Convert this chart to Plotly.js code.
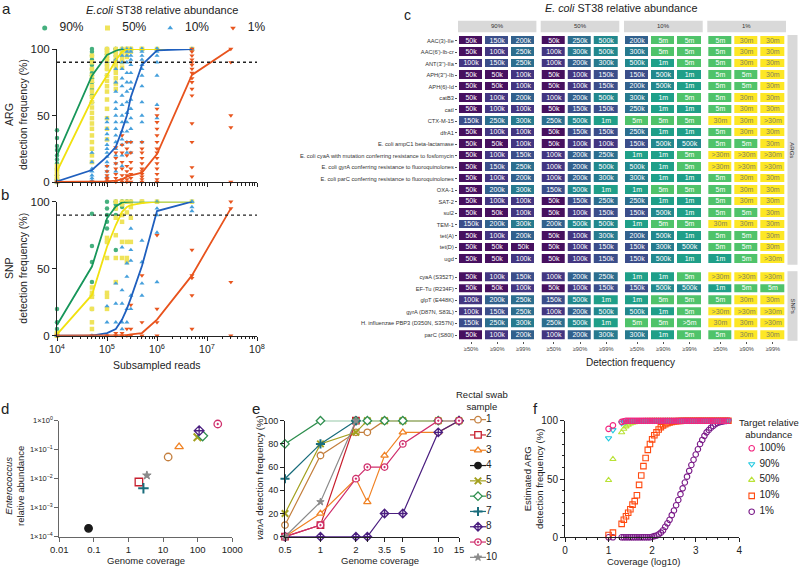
<!DOCTYPE html>
<html><head><meta charset="utf-8">
<script src="https://cdn.plot.ly/plotly-3.0.1.min.js"></script>
<style>html,body{margin:0;padding:0;background:#fff}#chart{width:800px;height:569px}</style>
</head><body><div id="chart"></div>
<script>
// ---------------- DATA ----------------
const READS = [1e4, 5e4, 1e5, 1.5e5, 2e5, 2.5e5, 3e5, 5e5, 1e6, 5e6, 3e7];
const THRESHOLD = 90;
const ABUND = ['90%', '50%', '10%', '1%'];

// panel a: ARG mean detection frequency
const ARG90 = [20, 80, 95.5, 98.7, 100, 100, 100, 100, 100, 100, null];
const ARG50 = [8, 62, 80, 91.5, 98, 100, 100, 100, 100, 100, null];
const ARG10 = [0.5, 9, 19, 26.5, 39, 50, 64, 88, 99, 100, null];
const ARG1  = [0, 0, 0.5, 1, 2, 4, 5, 7, 21, 80.5, 100];
// panel a: individual ARGs (one list per read depth)
const P90A = [[39,33,27,24,20,17,14,10,9,5,2],[100,98,95,92,90,88,85,82,80,78,75,70,65,60],[100,100,98,96,94,92,90,88,85,80],[100,100,100,98,97,95,92],[100,100,100,99,98],[100,100,100],[100,100],[100],[100],[100],[]];
const P50A = [[12,9,6,4,2,0],[95,90,85,80,76,72,68,64,60,56,52,48,44,40,35,30,25,20,15],[100,98,95,92,88,85,80,76,72,68,62,55,48,40,32],[100,98,96,93,90,88,85,82,78,74,70],[100,99,98,96,93,90,86],[100,100,99,97,94],[100,100,98],[100,100],[100],[100],[]];
const P10A = [[0,0,1],[22,15,10,8,5,3,1,0],[48,45,40,36,32,28,25,22,19,15,12,8,4,1],[92,85,75,68,60,55,50,45,40,35,30,25,20,14,8],[100,95,90,85,78,72,65,58,50,45,38,32,28,20,12],[100,98,95,90,82,75,68,60,52,45,38,30,22],[100,98,95,92,88,82,75,70,62,55,48,40,30,22],[100,100,98,95,92,88,85,80,72,60,50,45,30],[100,100,100,98,95,90,80,58,48],[100,100],[]];
const P1A  = [[0],[0,0],[12,8,5,3,2,0,0],[26,22,18,14,10,6,3,0],[35,28,22,15,10,5,2,0],[30,25,20,12,8,5,2,0],[30,22,15,10,6,3,0],[30,25,22,18,14,10,8,6,4,2,0],[55,50,45,40,35,30,25,22,18,14,10,6,2,0],[100,98,95,92,90,88,85,82,78,75,70,65,44,30,11,4],[100,90,50,41,0]];

// panel b: SNP mean detection frequency
const SNP90 = [8, 51.6, 87.6, 96.5, 99.5, 100, 100, 100, 100, 100, null];
const SNP50 = [1, 30.4, 66.4, 82.6, 92.5, 96, 97.5, 99, 100, 100, null];
const SNP10 = [0, 0, 2, 5, 12, 20, 28, 52, 93, 100, null];
const SNP1  = [0, 0, 0, 0, 0, 0.5, 1, 2, 12, 45, 95];
const P90B = [[20,10,5,2,0,0],[91,67,55,40,30,20],[100,95,90,85,80,70],[100,100,98,95,90,64],[100,100,100,98,96],[100,100,100],[100,100],[100],[100],[100],[]];
const P50B = [[0,0,2],[36,32,29,20,10,5],[73,70,58,32,29,20],[100,95,88,75,58,40],[100,98,90,85,70,58],[100,92,70,58,55],[100,96,88,70],[100,100],[100],[100],[]];
const P10B = [[0,0],[0,0],[22,10,0,0],[39,24,10,0],[66,34,24,10,5],[54,44,20,10],[80,64,56,30,20],[71,55,39,30],[100,95,90,77,40],[100,100,96,93],[]];
const P1B  = [[0],[0],[0],[0,2],[0,2],[5,0],[23,5,0],[45,10,0],[75,20,10,0],[64,45,43,30,5],[100,95,40,0]];

// panel c: reads needed for detection
const DET = ['≥50%', '≥90%', '≥99%'];
const ARG_GENES = ["AAC(3)-IIe","AAC(6')-Ib-cr","ANT(3'')-IIa","APH(3'')-Ib","APH(6)-Id","catB3","catI","CTX-M-15","dfrA1","E. coli ampC1 beta-lactamase","E. coli cyaA with mutation conferring resistance to fosfomycin","E. coli gyrA conferring resistance to fluoroquinolones","E. coli parC conferring resistance to fluoroquinolones","OXA-1","SAT-2","sul2","TEM-1","tet(A)","tet(D)","ugd"];
const SNP_GENES = ["cyaA (S352T)","EF-Tu (R234F)","glpT (E448K)","gyrA (D87N, S83L)","H. influenzae PBP3 (D350N, S357N)","parC (S80I)"];
const ARG_90 = [["50k","150k","200k"],["50k","100k","250k"],["100k","150k","250k"],["50k","50k","100k"],["50k","50k","100k"],["50k","100k","200k"],["50k","100k","100k"],["150k","250k","300k"],["50k","100k","100k"],["50k","50k","100k"],["50k","100k","150k"],["50k","150k","250k"],["50k","100k","200k"],["50k","200k","300k"],["50k","100k","100k"],["50k","50k","100k"],["150k","200k","300k"],["50k","100k","200k"],["50k","50k","50k"],["50k","50k","100k"]];
const ARG_50 = [["50k","250k","500k"],["100k","300k","500k"],["100k","200k","300k"],["50k","100k","150k"],["50k","100k","150k"],["100k","200k","500k"],["50k","150k","150k"],["250k","500k","1m"],["50k","150k","150k"],["50k","100k","100k"],["100k","200k","250k"],["100k","200k","500k"],["100k","200k","300k"],["150k","500k","1m"],["50k","150k","250k"],["50k","100k","150k"],["200k","500k","500k"],["50k","100k","300k"],["50k","100k","150k"],["50k","100k","150k"]];
const ARG_10 = [["200k","5m","5m"],["300k","5m","5m"],["500k","1m","5m"],["150k","500k","1m"],["200k","500k","1m"],["300k","1m","5m"],["250k","1m","1m"],["5m","5m","5m"],["250k","1m","1m"],["150k","500k","500k"],["1m","1m","5m"],["500k","1m","5m"],["300k","1m","1m"],["1m","5m","5m"],["250k","1m","1m"],["150k","500k","1m"],["1m","5m","5m"],["200k","500k","1m"],["150k","300k","500k"],["150k","500k","1m"]];
const ARG_1 = [["5m","30m","30m"],["5m","30m","30m"],["5m","30m","30m"],["5m","5m","30m"],["5m","5m","30m"],["5m","30m","30m"],["5m","30m","30m"],["30m","30m",">30m"],["5m","30m","30m"],["5m","5m","30m"],[">30m",">30m",">30m"],[">30m",">30m",">30m"],["5m","30m","30m"],["5m","30m","30m"],["5m","30m","30m"],["5m","5m","30m"],["30m","30m","30m"],["5m","5m","30m"],["5m","5m","30m"],["1m","5m",">30m"]];
const SNP_90 = [["50k","100k","150k"],["50k","50k","100k"],["100k","200k","250k"],["100k","150k","250k"],["150k","250k","300k"],["50k","100k","200k"]];
const SNP_50 = [["100k","200k","250k"],["50k","100k","150k"],["150k","500k","1m"],["100k","200k","500k"],["250k","500k","1m"],["100k","200k","300k"]];
const SNP_10 = [["1m","1m","5m"],["150k","500k","500k"],["1m","5m","5m"],["500k","1m","5m"],["5m","5m",">5m"],["300k","1m","5m"]];
const SNP_1 = [[">30m",">30m",">30m"],["1m","5m","5m"],["5m","30m","30m"],[">30m",">30m",">30m"],["30m","30m",">30m"],["5m","30m","30m"]];

// panel d
const SAMPLES = ['1','2','3','4','5','6','7','8','9','10'];
const D_COV = [14, 2.0, 29, 0.07, 98, 139, 2.7, 110, 380, 3.4];
const D_ABUND = [0.056, 0.0077, 0.126, 0.000195, 0.27, 0.30, 0.0047, 0.45, 0.77, 0.013];

// panel e
const E_COV = [0.5, 1, 2, 2.5, 3.5, 5, 10, 15];
const E_TICKS = ['0.5','1','2','','3.5','5','10','15'];
const E_VALS = [
  [10,70,90,90,100,100,100,null],
  [0,10,100,null,null,null,null,null],
  [0,20,50,30,70,90,90,100],
  [null,null,null,null,null,null,null,null],
  [20,80,90,100,100,100,100,100],
  [80,100,100,100,100,100,100,100],
  [50,80,100,null,null,null,null,null],
  [0,0,0,0,20,20,90,100],
  [0,10,50,60,60,80,100,100],
  [0,30,100,null,null,null,null,null]
];

// panel f
const F_NAMES = ['100%','90%','50%','10%','1%'];
const F_X = [1.0,1.1,1.3,1.35,1.4,1.45,1.5,1.55,1.6,1.65,1.7,1.75,1.8,1.85,1.9,1.95,2.0,2.05,2.1,2.15,2.2,2.25,2.3,2.35,2.4,2.45,2.5,2.55,2.6,2.65,2.7,2.75,2.8,2.85,2.9,2.95,3.0,3.05,3.1,3.15,3.2,3.25,3.3,3.35,3.4,3.45,3.5,3.55,3.6,3.65,3.7,3.75];
const F100 = [93,96,99,99.5,100,100,100,100,100,100,100,100,100,100,100,100,100,100,100,100,100,100,100,100,100,100,100,100,100,100,100,100,100,100,100,100,100,100,100,100,100,100,100,100,100,100,100,100,100,100,100,100];
const F90  = [85,92,98,99,99.5,100,100,100,100,100,100,100,100,100,100,100,100,100,100,100,100,100,100,100,100,100,100,100,100,100,100,100,100,100,100,100,100,100,100,100,100,100,100,100,100,100,100,100,100,100,100,100];
const F50  = [49,67,90,93,95,96.5,97.5,98.2,98.7,99,99.3,99.5,99.7,99.8,99.9,100,100,100,100,100,100,100,100,100,100,100,100,100,100,100,100,100,100,100,100,100,100,100,100,100,100,100,100,100,100,100,100,100,100,100,100,100];
const F10  = [2,4,11.5,15,18,21,24,28,31,36,45,53,61,68,75,80,84,87.5,90,92.5,94.5,96,97,97.8,98.5,99,99.3,99.5,99.7,99.8,99.9,100,100,100,100,100,100,100,100,100,100,100,100,100,100,100,100,100,100,100,100,100];
const F1   = [0,0,0,0,0,0,0,0,0,0,0,0,0,0,0,0,0.5,1,1.5,2.5,4,6,9,12,15,19,23,27.5,32,37,42,47,52,57,62,66.5,71,75.5,80,83.5,87,90,92,94,95.5,97,98,98.7,99.2,99.6,99.8,100];

// ---------------- STYLE ----------------
const W = 800, H = 569;
const fx = p => p / W, fy = p => 1 - p / H;
const FONT = 'Liberation Sans, Arial, sans-serif';
const INK = '#222';

const AB_STYLE = [
  {pc:'#45b07e', lc:'#17965a', sym:'circle'},
  {pc:'#efe35a', lc:'#f1e10f', sym:'square'},
  {pc:'#46a0dc', lc:'#1f5fbe', sym:'triangle-up'},
  {pc:'#e8561f', lc:'#e8531d', sym:'triangle-down'}
];
const HEAT_COLORS = ['#47105f','#433681','#3b4e8a','#32618d','#2c6e8e','#277a8e','#22888d','#1f9f88','#4fc36a','#fde725'];
const SAMPLE_COLORS = ['#c47f3e','#c8202f','#f08224','#1a1a1a','#a3a01e','#2f8f4f','#1a6d7c','#4b1f80','#cf2f6c','#8a8a8a'];
const SAMPLE_SYMBOLS = ['circle','square','triangle-up','circle','x-thin','diamond','cross-thin','diamond-cross','circle-dot','star'];
const SAMPLE_FILLED = [false,false,false,true,true,false,true,false,false,true];
const SAMPLE_SIZE = [1,1,1,1,1,1,1,1,1,0.85];
const SAMPLE_LW = [1.3,1.3,1.3,1.3,2,1.3,2,1.3,1.3,1];
const F_STYLE = [
  {c:'#f2267f', s:'circle-open'},
  {c:'#22c9e0', s:'triangle-down-open'},
  {c:'#b9e236', s:'triangle-up-open'},
  {c:'#ff4a10', s:'square-open'},
  {c:'#7a1a88', s:'circle-open'}
];

const traces = [];

// ---------- panels a & b ----------
function flat(pts) {
  const x = [], y = [];
  pts.forEach((arr, i) => arr.forEach(v => { x.push(READS[i]); y.push(v); }));
  return {x, y};
}
const ptsA = [P90A, P50A, P10A, P1A], ptsB = [P90B, P50B, P10B, P1B];
const linesA = [ARG90, ARG50, ARG10, ARG1], linesB = [SNP90, SNP50, SNP10, SNP1];
[['x','y',ptsA,linesA],['x2','y2',ptsB,linesB]].forEach(([xa,ya,pts,lines]) => {
  pts.forEach((p, k) => {
    const f = flat(p);
    traces.push({type:'scatter', mode:'markers', x:f.x, y:f.y, xaxis:xa, yaxis:ya, name:ABUND[k],
      showlegend:false, cliponaxis:false, hoverinfo:'skip',
      marker:{symbol:AB_STYLE[k].sym, size:4.5, color:AB_STYLE[k].pc, line:{width:0}}});
  });
  lines.forEach((l, k) => {
    traces.push({type:'scatter', mode:'lines', x:READS, y:l, xaxis:xa, yaxis:ya, showlegend:false,
      cliponaxis:false, hoverinfo:'skip', line:{color:AB_STYLE[k].lc, width:1.8}});
  });
});
// legend for a/b (built from the abundance list)
ABUND.forEach((n, k) => {
  traces.push({type:'scatter', mode:'markers', x:[k], y:[0], xaxis:'x12', yaxis:'y12', showlegend:false,
    cliponaxis:false, hoverinfo:'skip', marker:{symbol:AB_STYLE[k].sym, size:5, color:AB_STYLE[k].pc, line:{width:0}}});
  traces.push({type:'scatter', mode:'text', x:[k], y:[0], xaxis:'x13', yaxis:'y12', showlegend:false,
    cliponaxis:false, hoverinfo:'skip', text:[n], textposition:'middle right', textfont:{family:FONT, size:12, color:INK}});
});

// ---------- panel c ----------
const CODE = {'50k':0,'100k':1,'150k':2,'200k':3,'250k':4,'300k':5,'500k':6,'1m':7,'5m':8,'>5m':8,'30m':9,'>30m':9};
const cs = [];
HEAT_COLORS.forEach((c, i) => { cs.push([i / 10, c]); cs.push([(i + 1) / 10, c]); });
function addHeat(mat, rows, xa, ya) {
  traces.push({type:'heatmap', x:DET, y:rows, z:mat.map(r => r.map(v => CODE[v])), colorscale:cs, zmin:-0.5, zmax:9.5,
    showscale:false, xgap:3, ygap:3, xaxis:xa, yaxis:ya, hoverinfo:'skip'});
  const tx = [], ty = [], tt = [], tc = [];
  mat.forEach((r, i) => r.forEach((v, j) => {
    tx.push(DET[j]); ty.push(rows[i]); tt.push(v); tc.push(CODE[v] === 9 ? '#86845a' : '#ffffff');
  }));
  traces.push({type:'scatter', mode:'text', x:tx, y:ty, text:tt, xaxis:xa, yaxis:ya, showlegend:false,
    hoverinfo:'skip', cliponaxis:false, textposition:'middle center', textfont:{family:FONT, size:7, color:tc}});
}
const ARG_MATS = [ARG_90, ARG_50, ARG_10, ARG_1], SNP_MATS = [SNP_90, SNP_50, SNP_10, SNP_1];
const CX = ['x3','x4','x5','x6'];
CX.forEach((xa, g) => { addHeat(ARG_MATS[g], ARG_GENES, xa, 'y3'); addHeat(SNP_MATS[g], SNP_GENES, xa, 'y4'); });

// ---------- panel d ----------
function sampleMarker(i, size) {
  return {symbol:SAMPLE_SYMBOLS[i], size:size * SAMPLE_SIZE[i], color:SAMPLE_FILLED[i] ? SAMPLE_COLORS[i] : '#ffffff',
    line:{color:SAMPLE_COLORS[i], width:SAMPLE_LW[i]}};
}
SAMPLES.forEach((s, i) => {
  traces.push({type:'scatter', mode:'markers', x:[D_COV[i]], y:[D_ABUND[i]], xaxis:'x7', yaxis:'y7',
    showlegend:false, cliponaxis:false, hoverinfo:'skip', marker:sampleMarker(i, 7.5)});
});

// ---------- panel e ----------
SAMPLES.forEach((s, i) => {
  traces.push({type:'scatter', mode:'lines+markers', x:E_COV, y:E_VALS[i], xaxis:'x8', yaxis:'y8',
    showlegend:false, cliponaxis:false, hoverinfo:'skip', line:{color:SAMPLE_COLORS[i], width:1.2},
    marker:sampleMarker(i, 6.5)});
});
// legend for e (built from the sample list)
SAMPLES.forEach((s, i) => {
  traces.push({type:'scatter', mode:'lines', x:[0, 1], y:[i + 1, i + 1], xaxis:'x10', yaxis:'y10',
    showlegend:false, cliponaxis:false, hoverinfo:'skip', line:{color:SAMPLE_COLORS[i], width:1.2}});
  traces.push({type:'scatter', mode:'markers', x:[0.5], y:[i + 1], xaxis:'x10', yaxis:'y10',
    showlegend:false, cliponaxis:false, hoverinfo:'skip', marker:sampleMarker(i, 6.5)});
  traces.push({type:'scatter', mode:'text', x:[1], y:[i + 1], xaxis:'x10', yaxis:'y10',
    showlegend:false, cliponaxis:false, hoverinfo:'skip', text:[s], textposition:'middle right',
    textfont:{family:FONT, size:10, color:INK}});
});

// ---------- panel f ----------
const F_SERIES = [F100, F90, F50, F10, F1];
[4, 3, 2, 1, 0].forEach(k => {
  traces.push({type:'scatter', mode:'markers', x:F_X, y:F_SERIES[k], xaxis:'x9', yaxis:'y9',
    showlegend:false, cliponaxis:false, hoverinfo:'skip',
    marker:{symbol:F_STYLE[k].s, size:5.5, color:F_STYLE[k].c, line:{width:1.1, color:F_STYLE[k].c}}});
});
F_NAMES.forEach((n, k) => {
  traces.push({type:'scatter', mode:'markers', x:[0], y:[k + 1], xaxis:'x11', yaxis:'y11', showlegend:false,
    cliponaxis:false, hoverinfo:'skip', marker:{symbol:F_STYLE[k].s, size:5.5, color:F_STYLE[k].c, line:{width:1.1, color:F_STYLE[k].c}}});
  traces.push({type:'scatter', mode:'text', x:[1], y:[k + 1], xaxis:'x11', yaxis:'y11', showlegend:false,
    cliponaxis:false, hoverinfo:'skip', text:[n], textposition:'middle right', textfont:{family:FONT, size:10, color:INK}});
});

// ---------------- LAYOUT ----------------
const axBase = {showgrid:false, zeroline:false, showline:true, linecolor:INK, linewidth:1, ticks:'outside',
  ticklen:4, tickwidth:1, tickcolor:INK, tickfont:{size:10, family:FONT, color:INK}, fixedrange:true};
const ax = e => Object.assign({}, axBase, e);
const DEC = [1e4, 1e5, 1e6, 1e7, 1e8];
const minorLog = {ticks:'outside', ticklen:2.5, tickcolor:INK, dtick:'D1', showgrid:false};

const layout = {
  width:W, height:H, margin:{l:0, r:0, t:0, b:0}, paper_bgcolor:'#ffffff', plot_bgcolor:'rgba(0,0,0,0)',
  font:{family:FONT, color:INK, size:10}, showlegend:false,
  xaxis: ax({type:'log', range:[4, 8], domain:[fx(57), fx(257)], anchor:'y', showticklabels:false, tickvals:DEC, minor:minorLog}),
  yaxis: ax({range:[0, 100], domain:[fy(182), fy(49)], anchor:'x', tickvals:[0, 50, 100], tickfont:{size:11.5, family:FONT, color:INK}}),
  xaxis2: ax({type:'log', range:[4, 8], domain:[fx(57), fx(257)], anchor:'y2', tickvals:DEC,
    ticktext:DEC.map(v => '10<sup>' + Math.round(Math.log10(v)) + '</sup>'), tickfont:{size:10.5, family:FONT, color:INK}, minor:minorLog}),
  yaxis2: ax({range:[0, 100], domain:[fy(335.7), fy(201.7)], anchor:'x2', tickvals:[0, 50, 100], tickfont:{size:11.5, family:FONT, color:INK}}),
  yaxis3: {domain:[fy(264.7), fy(35)], anchor:'x3', type:'category', autorange:'reversed', categoryorder:'array', categoryarray:ARG_GENES,
    showgrid:false, zeroline:false, showline:false, ticks:'outside', ticklen:2, tickcolor:'#555', tickfont:{size:5.7, family:FONT, color:'#333'}, fixedrange:true},
  yaxis4: {domain:[fy(340.8), fy(271.2)], anchor:'x3', type:'category', autorange:'reversed', categoryorder:'array', categoryarray:SNP_GENES,
    showgrid:false, zeroline:false, showline:false, ticks:'outside', ticklen:2, tickcolor:'#555', tickfont:{size:5.7, family:FONT, color:'#333'}, fixedrange:true},
  xaxis7: ax({type:'log', range:[-2, 3], domain:[fx(59.3), fx(232.3)], anchor:'y7', tickvals:[0.01, 0.1, 1, 10, 100, 1000],
    ticktext:['0.01','0.1','1','10','100','1000'], linecolor:'#666', tickcolor:'#666', tickfont:{size:9.5, family:FONT, color:INK}}),
  yaxis7: ax({type:'log', range:[-4, 0], domain:[fy(536.7), fy(420.7)], anchor:'x7', tickvals:[1e-4, 1e-3, 1e-2, 1e-1, 1],
    ticktext:['1×10<sup>−4</sup>','1×10<sup>−3</sup>','1×10<sup>−2</sup>','1×10<sup>−1</sup>','1×10<sup>0</sup>'], linecolor:'#666', tickcolor:'#666',
    tickfont:{size:7.5, family:FONT, color:INK}}),
  xaxis8: ax({type:'log', range:[Math.log10(E_COV[0]), Math.log10(E_COV[E_COV.length - 1])], domain:[fx(285), fx(459)], anchor:'y8',
    tickvals:E_COV, ticktext:E_TICKS, tickfont:{size:9.5, family:FONT, color:INK}}),
  yaxis8: ax({range:[0, 100], domain:[fy(536.7), fy(420.7)], anchor:'x8', tickvals:[0, 20, 40, 60, 80, 100], tickfont:{size:9, family:FONT, color:INK}}),
  xaxis9: ax({range:[0, 4], domain:[fx(565), fx(739.3)], anchor:'y9', tickvals:[0, 1, 2, 3, 4], tickfont:{size:10, family:FONT, color:INK},
    minor:{ticks:'outside', ticklen:2, tickcolor:INK, dtick:0.25}}),
  yaxis9: ax({range:[0, 100], domain:[fy(537.3), fy(420.7)], anchor:'x9', tickvals:[0, 50, 100], tickfont:{size:10, family:FONT, color:INK},
    minor:{ticks:'outside', ticklen:2, tickcolor:INK, dtick:10}}),
  xaxis10: {visible:false, range:[0, 1], domain:[fx(470), fx(486)], anchor:'y10', fixedrange:true},
  yaxis10: {visible:false, range:[10.5, 0.5], domain:[fy(565), fy(412)], anchor:'x10', fixedrange:true},
  xaxis11: {visible:false, range:[0, 1], domain:[fx(751.7), fx(759.5)], anchor:'y11', fixedrange:true},
  yaxis11: {visible:false, range:[5.5, 0.5], domain:[fy(519.6), fy(440.4)], anchor:'x11', fixedrange:true},
  xaxis12: {visible:false, range:[0, 3], domain:[fx(44.7), fx(233)], anchor:'y12', fixedrange:true},
  xaxis13: {visible:false, range:[0, 3], domain:[fx(59.5), fx(247.8)], anchor:'y12', fixedrange:true},
  yaxis12: {visible:false, range:[-1, 1], domain:[fy(38), fy(18)], anchor:'x12', fixedrange:true},
  shapes:[], annotations:[]
};
const GX = [[458, 536.4], [540.7, 619.3], [624, 702.7], [707.3, 786]];
CX.forEach((xa, g) => {
  layout['xaxis' + xa.slice(1)] = {domain:[fx(GX[g][0]), fx(GX[g][1])], anchor:'y4', type:'category', categoryorder:'array', categoryarray:DET,
    range:[-0.5, 2.5], showgrid:false, zeroline:false, showline:false, ticks:'outside', ticklen:2, tickcolor:'#555',
    tickfont:{size:5.7, family:FONT, color:'#444'}, fixedrange:true};
  layout.shapes.push({type:'rect', xref:xa + ' domain', x0:0, x1:1, yref:'paper', y0:fy(32.3), y1:fy(20.7), fillcolor:'#d9d9d9', line:{width:0}, layer:'below'});
  layout.annotations.push({xref:xa + ' domain', x:0.5, yref:'paper', y:fy(26.5), text:ABUND[g], showarrow:false,
    font:{size:6, family:FONT, color:'#333'}, xanchor:'center', yanchor:'middle'});
});
layout.yaxis3.range = [ARG_GENES.length - 0.5, -0.5]; delete layout.yaxis3.autorange;
layout.yaxis4.range = [SNP_GENES.length - 0.5, -0.5]; delete layout.yaxis4.autorange;
[['y3', 'ARGs'], ['y4', 'SNPs']].forEach(([ya, t]) => {
  layout.shapes.push({type:'rect', xref:'paper', x0:fx(787.5), x1:fx(797.5), yref:ya + ' domain', y0:0, y1:1, fillcolor:'#d9d9d9', line:{width:0}, layer:'below'});
  layout.annotations.push({xref:'paper', x:fx(792.5), yref:ya + ' domain', y:0.5, text:t, textangle:90, showarrow:false,
    font:{size:6, family:FONT, color:'#333'}, xanchor:'center', yanchor:'middle'});
});
['y', 'y2'].forEach(ya => layout.shapes.push({type:'line', xref:(ya === 'y' ? 'x' : 'x2') + ' domain', x0:0, x1:1, yref:ya,
  y0:THRESHOLD, y1:THRESHOLD, line:{color:INK, width:1.4, dash:'dot'}}));

function A(text, x, y, size, extra) {
  layout.annotations.push(Object.assign({xref:'paper', yref:'paper', x:fx(x), y:fy(y), text:text, showarrow:false,
    xanchor:'center', yanchor:'middle', font:{size:size, family:FONT, color:INK}}, extra || {}));
}
A('a', 6, 8, 15); A('b', 5, 194, 15); A('c', 407, 15, 14); A('d', 5, 408, 15); A('e', 256, 408, 15); A('f', 535, 408, 15);
A('<i>E.coli</i> ST38 relative abundance', 162, 9.5, 11);
A('ARG<br>detection frequency (%)', 16, 115, 10.5, {textangle:-90});
A('SNP<br>detection frequency (%)', 16, 268.7, 10.5, {textangle:-90});
A('Subsampled reads', 157, 365, 10.5);
A('<i>E. coli</i> ST38 relative abundance', 621, 8.5, 10.8);
A('Detection frequency', 630, 362.7, 10);
A('<i>Enterococcus</i><br>relative abundance', 14, 486, 9.5, {textangle:-90});
A('Genome coverage', 146, 560, 9.5);
A('<i>vanA</i> detection frequency (%)', 259, 478, 9.5, {textangle:-90});
A('Genome coverage', 380, 560.7, 9.5);
A('Rectal swab<br>sample', 482, 400, 9.5);
A('Estimated ARG<br>detection frequency (%)', 533, 479, 9.5, {textangle:-90});
A('Coverage (log10)', 643, 561.7, 9.5);
A('Target relative<br>abundance', 769, 428, 9.5);

Plotly.newPlot('chart', traces, layout, {staticPlot:true, displayModeBar:false});
</script></body></html>
